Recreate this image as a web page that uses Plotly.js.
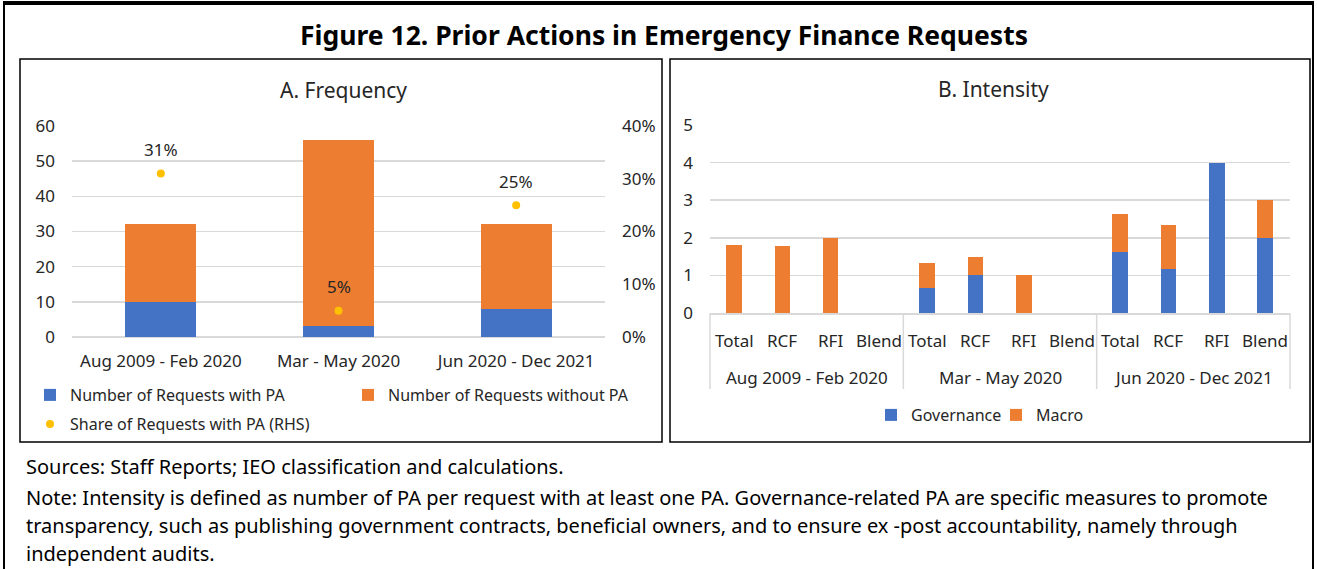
<!DOCTYPE html>
<html>
<head>
<meta charset="utf-8">
<script src="https://cdn.plot.ly/plotly-3.0.1.min.js"></script>
<style>
  html, body { margin: 0; padding: 0; background: #fff; }
  #chart { width: 1317px; height: 569px; }
</style>
</head>
<body>
<div id="chart"></div>
<script>
// ---------- DATA ----------
const periods = ['Aug 2009 - Feb 2020', 'Mar - May 2020', 'Jun 2020 - Dec 2021'];
const withPA = [10, 3, 8];
const withoutPA = [22, 53, 24];
const sharePA = [0.31, 0.05, 0.25];
const shareLabels = ['31%', '5%', '25%'];

const facilities = ['Total', 'RCF', 'RFI', 'Blend'];
const governance = [0, 0, 0, null, 0.67, 1.0, 0, null, 1.62, 1.17, 4.0, 2.0];
const macro = [1.8, 1.78, 2.0, null, 0.66, 0.5, 1.0, null, 1.0, 1.16, 0, 1.0];

const leftTicks = [0, 10, 20, 30, 40, 50, 60];
const rightTicks = [0, 0.1, 0.2, 0.3, 0.4];
const intensityTicks = [0, 1, 2, 3, 4, 5];

const noteLines = [
  'Sources: Staff Reports; IEO classification and calculations.',
  'Note: Intensity is defined as number of PA per request with at least one PA. Governance-related PA are specific measures to promote',
  'transparency, such as publishing government contracts, beneficial owners, and to ensure ex -post accountability, namely through',
  'independent audits.'
];

// ---------- HELPERS ----------
const W = 1317, H = 569;
const X = px => px / W;
const Y = py => 1 - py / H;
const FONT = 'Noto Sans, Open Sans, sans-serif';
const BLUE = '#4472C4', ORANGE = '#ED7D31', GOLD = '#FFC000';
const GRID = '#D9D9D9', TXT = '#262626';

// unique category keys for panel B (period + facility)
const keysB = [], subB = [];
periods.forEach(p => facilities.forEach(f => { keysB.push(p + ' | ' + f); subB.push(f); }));

const traces = [
  { type: 'bar', name: 'Number of Requests with PA', x: periods, y: withPA,
    xaxis: 'x', yaxis: 'y', width: 0.4, marker: { color: BLUE, line: { width: 0 } },
    legend: 'legend', hoverinfo: 'y' },
  { type: 'bar', name: 'Number of Requests without PA', x: periods, y: withoutPA,
    xaxis: 'x', yaxis: 'y', width: 0.4, marker: { color: ORANGE, line: { width: 0 } },
    legend: 'legend', hoverinfo: 'y' },
  { type: 'scatter', mode: 'markers', name: 'Share of Requests with PA (RHS)',
    x: periods, y: sharePA,
    xaxis: 'x', yaxis: 'y2', marker: { color: GOLD, size: 8 },
    legend: 'legend2', cliponaxis: false },
  { type: 'bar', name: 'Governance', x: keysB, y: governance,
    xaxis: 'x3', yaxis: 'y3', width: 0.325, marker: { color: BLUE, line: { width: 0 } },
    legend: 'legend3' },
  { type: 'bar', name: 'Macro', x: keysB, y: macro,
    xaxis: 'x3', yaxis: 'y3', width: 0.325, marker: { color: ORANGE, line: { width: 0 } },
    legend: 'legend3' }
];

const axisFont = { family: FONT, size: 17, color: TXT };

const shapes = [
  // outer frame
  { type: 'line', xref: 'paper', yref: 'paper', x0: X(4), x1: X(4), y0: Y(3), y1: Y(580), line: { color: '#000', width: 2 } },
  { type: 'line', xref: 'paper', yref: 'paper', x0: X(1313), x1: X(1313), y0: Y(3), y1: Y(580), line: { color: '#000', width: 2 } },
  { type: 'line', xref: 'paper', yref: 'paper', x0: X(3), x1: X(1314), y0: Y(3), y1: Y(3), line: { color: '#000', width: 4 } },
  // panel boxes
  { type: 'rect', xref: 'paper', yref: 'paper', x0: X(20), x1: X(662), y0: Y(59), y1: Y(442), line: { color: '#000', width: 1.5 } },
  { type: 'rect', xref: 'paper', yref: 'paper', x0: X(670), x1: X(1310), y0: Y(59), y1: Y(442), line: { color: '#000', width: 1.5 } }
];
// group dividers for panel B category axis
for (let g = 0; g <= periods.length; g++) {
  shapes.push({ type: 'line', xref: 'x3 domain', yref: 'paper', x0: g / periods.length, x1: g / periods.length,
    y0: Y(313), y1: Y(389), line: { color: GRID, width: 1.5 } });
}

const annotations = [
  { text: 'A. Frequency', xref: 'paper', yref: 'paper', x: X(343), y: Y(90), xanchor: 'center', yanchor: 'middle',
    showarrow: false, font: { family: FONT, size: 21, color: TXT } },
  { text: 'B. Intensity', xref: 'paper', yref: 'paper', x: X(994), y: Y(89), xanchor: 'center', yanchor: 'middle',
    showarrow: false, font: { family: FONT, size: 21, color: TXT } }
];
// share labels anchored to data points
periods.forEach((p, i) => annotations.push({
  text: shareLabels[i], xref: 'x', yref: 'y2', x: p, y: sharePA[i], yshift: 24,
  xanchor: 'center', yanchor: 'middle', showarrow: false, font: { family: FONT, size: 17, color: TXT }
}));
// panel B facility labels and period labels
keysB.forEach((k, i) => annotations.push({
  text: subB[i], xref: 'x3', yref: 'paper', x: k, y: Y(340), xanchor: 'center', yanchor: 'middle',
  showarrow: false, font: axisFont
}));
periods.forEach((p, g) => annotations.push({
  text: p, xref: 'x3 domain', yref: 'paper', x: (g + 0.5) / periods.length, y: Y(377),
  xanchor: 'center', yanchor: 'middle', showarrow: false, font: axisFont
}));
const noteY = [466, 497, 525, 553];
noteLines.forEach((t, i) => annotations.push({
  text: t, xref: 'paper', yref: 'paper', x: X(24), y: Y(noteY[i]), xanchor: 'left', yanchor: 'middle',
  showarrow: false, align: 'left', font: { family: FONT, size: 20, color: '#000' }
}));

const layout = {
  width: W, height: H,
  margin: { l: 0, r: 0, t: 0, b: 0, pad: 0 },
  paper_bgcolor: '#fff', plot_bgcolor: 'rgba(0,0,0,0)',
  font: { family: FONT, color: TXT },
  barmode: 'stack',
  title: { text: 'Figure 12. Prior Actions in Emergency Finance Requests',
    x: X(664), xanchor: 'center', y: Y(36), yanchor: 'middle',
    font: { family: FONT, size: 26.5, weight: 700, color: '#000' } },
  xaxis: { domain: [X(72), X(605)], anchor: 'y', type: 'category', tickfont: axisFont,
    showgrid: false, showline: false, zeroline: false, ticks: '', ticklabelstandoff: 12 },
  yaxis: { domain: [Y(337), Y(126)], anchor: 'x', range: [0, 60], tickvals: leftTicks,
    tickfont: axisFont, gridcolor: GRID, gridwidth: 1.5, zeroline: true, zerolinecolor: GRID, zerolinewidth: 1.5,
    showline: false, ticks: '', ticklabelstandoff: 16 },
  yaxis2: { overlaying: 'y', side: 'right', anchor: 'x', range: [0, 0.4], tickvals: rightTicks,
    tickformat: '.0%', tickfont: axisFont, showgrid: false, zeroline: false, showline: false,
    ticks: '', ticklabelstandoff: 16 },
  xaxis3: { domain: [X(710), X(1290)], anchor: 'y3', type: 'category', showticklabels: false,
    showgrid: false, zeroline: false, showline: true, linecolor: GRID, linewidth: 1.5, ticks: '' },
  yaxis3: { domain: [Y(313), Y(125)], anchor: 'x3', range: [0, 5], tickvals: intensityTicks,
    tickfont: axisFont, gridcolor: GRID, gridwidth: 1.5, zeroline: false, showline: false,
    ticks: '', ticklabelstandoff: 16 },
  legend: { orientation: 'h', x: X(30), y: Y(378), xanchor: 'left', yanchor: 'top',
    entrywidth: 273, entrywidthmode: 'pixels', font: { family: FONT, size: 16, color: TXT },
    bgcolor: 'rgba(0,0,0,0)', traceorder: 'normal' },
  legend2: { orientation: 'h', x: X(30), y: Y(407), xanchor: 'left', yanchor: 'top',
    font: { family: FONT, size: 16, color: TXT }, bgcolor: 'rgba(0,0,0,0)' },
  legend3: { orientation: 'h', x: X(871), y: Y(398), xanchor: 'left', yanchor: 'top',
    entrywidth: 80, entrywidthmode: 'pixels', font: { family: FONT, size: 16, color: TXT },
    bgcolor: 'rgba(0,0,0,0)', traceorder: 'normal' },
  shapes: shapes,
  annotations: annotations,
  showlegend: true
};

Plotly.newPlot('chart', traces, layout, { displayModeBar: false, staticPlot: true });
</script>
</body>
</html>
